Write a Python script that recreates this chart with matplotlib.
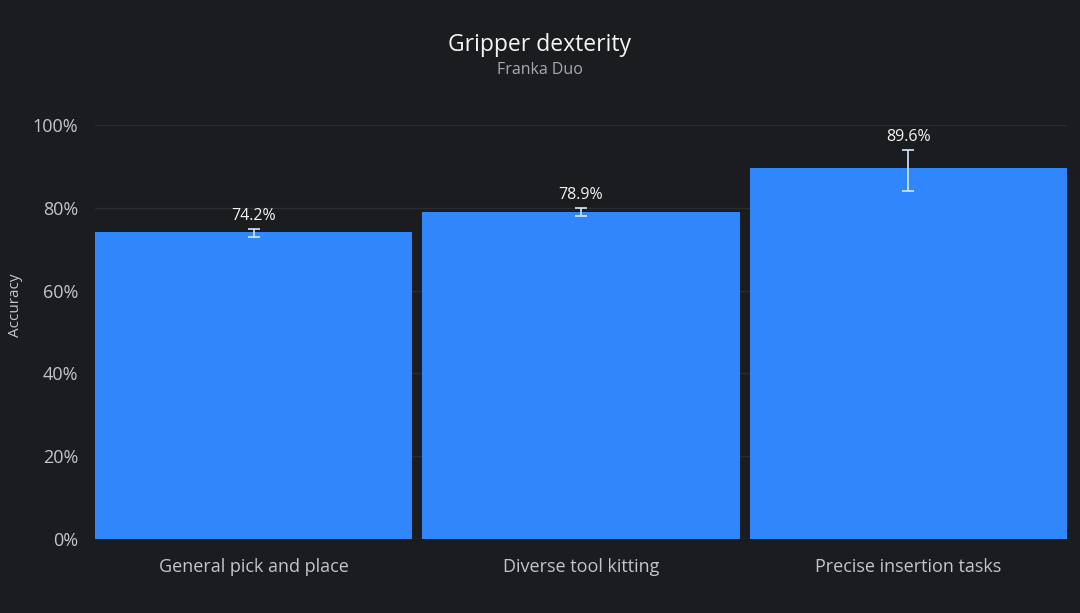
import matplotlib
matplotlib.use('Agg')
import matplotlib.pyplot as plt
from matplotlib.ticker import FuncFormatter

tasks = ['General pick and place', 'Diverse tool kitting', 'Precise insertion tasks']
accuracy = [74.2, 78.9, 89.6]
err_low = [1.3, 0.9, 5.5]
err_high = [0.8, 1.0, 4.4]

BG = '#1b1c20'
BAR = '#3087fb'
TXT = '#c4c5c9'

plt.rcParams['font.family'] = ['Open Sans', 'DejaVu Sans']

fig = plt.figure(figsize=(10.8, 6.13), dpi=100, facecolor=BG)
ax = fig.add_axes([95/1080, 1-539/613, (1067-95)/1080, (539-125)/613])
ax.set_facecolor(BG)

x = range(len(tasks))
ax.bar(x, accuracy, width=0.97, color=BAR, zorder=2)
ax.errorbar(x, accuracy, yerr=[err_low, err_high], fmt='none',
            ecolor='#d6e8ff', elinewidth=1.2, capsize=4, capthick=1.2, zorder=3)

for i, v in enumerate(accuracy):
    ax.text(i, v + err_high[i] + 1.2, f'{v}%', ha='center', va='bottom',
            color='#f2f2f2', fontsize=11.5)

ax.set_xlim(-0.485, 2.485)
ax.set_ylim(0, 100)
ax.set_yticks([0, 20, 40, 60, 80, 100])
ax.yaxis.set_major_formatter(FuncFormatter(lambda v, p: f'{v:.0f}%'))
ax.grid(axis='y', color='#2b2c30', linewidth=1, zorder=0)
ax.set_xticks(list(x))
ax.set_xticklabels(tasks)
ax.tick_params(axis='both', length=0, colors=TXT, labelsize=13)
ax.tick_params(axis='x', pad=14)
ax.tick_params(axis='y', pad=12)
for s in ax.spines.values():
    s.set_visible(False)

ax.set_ylabel('Accuracy', color=TXT, fontsize=11)
ax.yaxis.set_label_coords(-0.074, 0.565)

fig.text(0.5, 1-45/613, 'Gripper dexterity', ha='center', va='center',
         color='#f5f5f5', fontsize=16.5)
fig.text(0.5, 1-70/613, 'Franka Duo', ha='center', va='center',
         color='#a9aaae', fontsize=11.5)

fig.savefig('out.png', dpi=100, facecolor=BG)
